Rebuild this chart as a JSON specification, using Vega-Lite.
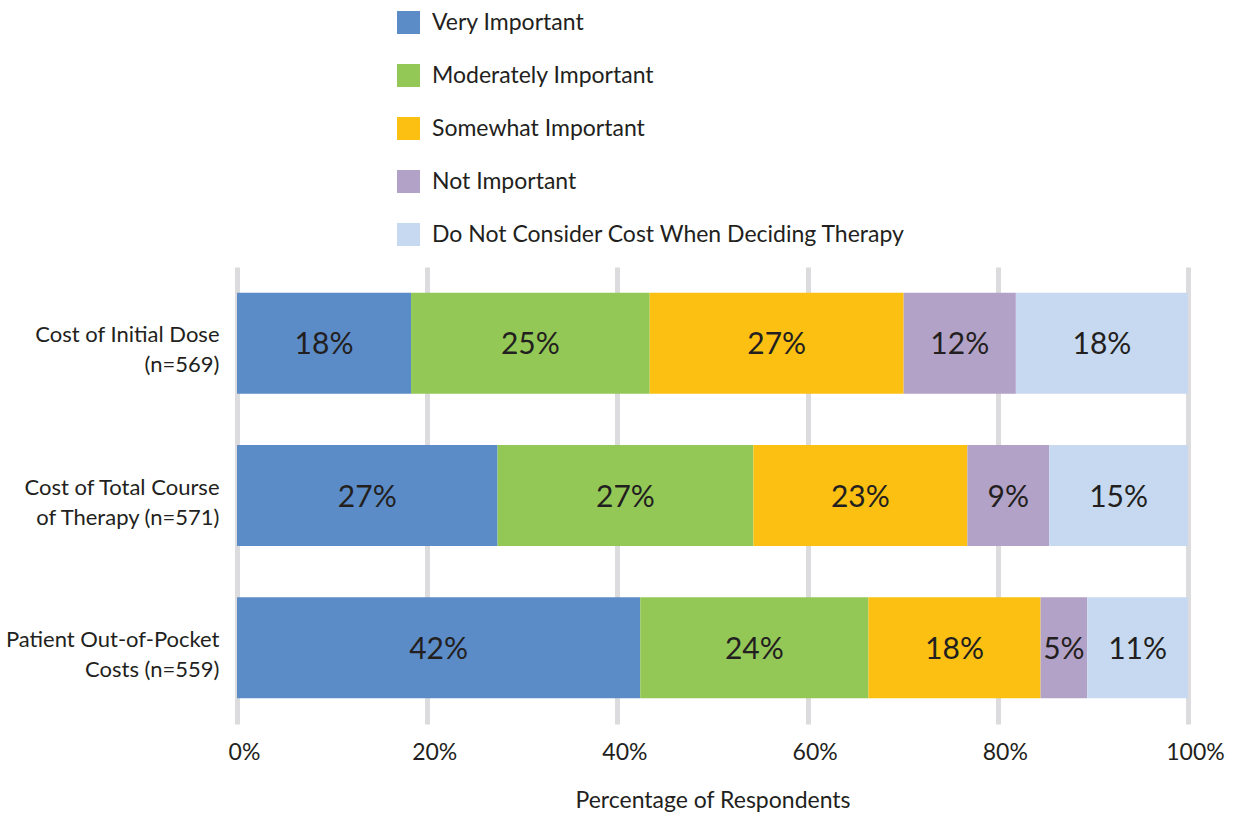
{
  "$schema": "https://vega.github.io/schema/vega-lite/v6.json",
  "width": 951,
  "height": 457,
  "autosize": {"type": "none"},
  "padding": {"left": 237, "top": 267, "right": 52, "bottom": 89},
  "background": "white",
  "config": {
    "view": {"stroke": null},
    "font": "Lato",
    "text": {"color": "#231F20"}
  },
  "data": {
    "values": [
      {"question": "Cost of Initial Dose\n(n=569)", "response": "Very Important", "rank": 1, "share": 0.183},
      {"question": "Cost of Initial Dose\n(n=569)", "response": "Moderately Important", "rank": 2, "share": 0.251},
      {"question": "Cost of Initial Dose\n(n=569)", "response": "Somewhat Important", "rank": 3, "share": 0.267},
      {"question": "Cost of Initial Dose\n(n=569)", "response": "Not Important", "rank": 4, "share": 0.118},
      {"question": "Cost of Initial Dose\n(n=569)", "response": "Do Not Consider Cost When Deciding Therapy", "rank": 5, "share": 0.181},
      {"question": "Cost of Total Course\nof Therapy (n=571)", "response": "Very Important", "rank": 1, "share": 0.274},
      {"question": "Cost of Total Course\nof Therapy (n=571)", "response": "Moderately Important", "rank": 2, "share": 0.269},
      {"question": "Cost of Total Course\nof Therapy (n=571)", "response": "Somewhat Important", "rank": 3, "share": 0.225},
      {"question": "Cost of Total Course\nof Therapy (n=571)", "response": "Not Important", "rank": 4, "share": 0.086},
      {"question": "Cost of Total Course\nof Therapy (n=571)", "response": "Do Not Consider Cost When Deciding Therapy", "rank": 5, "share": 0.146},
      {"question": "Patient Out-of-Pocket\nCosts (n=559)", "response": "Very Important", "rank": 1, "share": 0.424},
      {"question": "Patient Out-of-Pocket\nCosts (n=559)", "response": "Moderately Important", "rank": 2, "share": 0.240},
      {"question": "Patient Out-of-Pocket\nCosts (n=559)", "response": "Somewhat Important", "rank": 3, "share": 0.181},
      {"question": "Patient Out-of-Pocket\nCosts (n=559)", "response": "Not Important", "rank": 4, "share": 0.049},
      {"question": "Patient Out-of-Pocket\nCosts (n=559)", "response": "Do Not Consider Cost When Deciding Therapy", "rank": 5, "share": 0.106}
    ]
  },
  "transform": [
    {"stack": "share", "groupby": ["question"], "sort": [{"field": "rank", "order": "ascending"}], "as": ["s0", "s1"], "offset": "zero"},
    {"calculate": "(datum.s0 + datum.s1) / 2", "as": "mid"}
  ],
  "encoding": {
    "y": {
      "field": "question",
      "type": "nominal",
      "sort": null,
      "title": null,
      "scale": {"paddingInner": 0.337, "paddingOuter": 0.1685},
      "axis": {
        "domain": false,
        "ticks": false,
        "labelExpr": "split(datum.label, '\\n')",
        "labelFontSize": 22,
        "labelLineHeight": 30,
        "labelColor": "#231F20",
        "labelPadding": 18,
        "labelOffset": -8,
        "labelLimit": 400
      }
    }
  },
  "layer": [
    {
      "mark": {"type": "bar"},
      "encoding": {
        "x": {
          "field": "s0",
          "type": "quantitative",
          "scale": {"domain": [0, 1], "nice": false},
          "title": "Percentage of Respondents",
          "axis": {
            "values": [0, 0.2, 0.4, 0.6, 0.8, 1],
            "format": ".0%",
            "domain": false,
            "ticks": false,
            "grid": true,
            "gridColor": "#DCDCDE",
            "gridWidth": 5,
            "labelFontSize": 23,
            "labelColor": "#231F20",
            "labelPadding": 17,
            "labelOffset": 7,
            "labelFlush": false,
            "titleFontSize": 23,
            "titleFontWeight": "normal",
            "titleColor": "#231F20",
            "titlePadding": 25
          }
        },
        "x2": {"field": "s1"},
        "color": {
          "field": "response",
          "type": "nominal",
          "sort": ["Very Important", "Moderately Important", "Somewhat Important", "Not Important", "Do Not Consider Cost When Deciding Therapy"],
          "scale": {
            "domain": ["Very Important", "Moderately Important", "Somewhat Important", "Not Important", "Do Not Consider Cost When Deciding Therapy"],
            "range": ["#5B8CC8", "#93C857", "#FCC012", "#B3A2C7", "#C6D9F0"]
          },
          "legend": {
            "title": null,
            "orient": "none",
            "legendX": 160,
            "legendY": -256,
            "direction": "vertical",
            "symbolType": "square",
            "symbolSize": 529,
            "symbolStrokeWidth": 0,
            "symbolOpacity": 1,
            "labelFontSize": 23,
            "labelColor": "#231F20",
            "labelOffset": 12,
            "rowPadding": 29,
            "labelLimit": 600
          }
        }
      }
    },
    {
      "mark": {"type": "text", "fontSize": 30, "color": "#231F20", "baseline": "middle", "align": "center", "dy": 2},
      "encoding": {
        "x": {"field": "mid", "type": "quantitative"},
        "text": {"field": "share", "type": "quantitative", "format": ".0%"}
      }
    }
  ]
}
